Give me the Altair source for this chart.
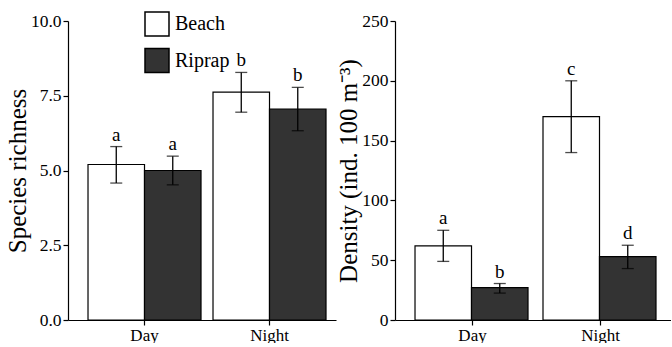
import altair as alt
import pandas as pd

groups = ["Day", "Day", "Night", "Night"]
sites = ["Beach", "Riprap", "Beach", "Riprap"]

richness = [5.2, 5.0, 7.62, 7.05]
rich_lo = [4.58, 4.52, 6.95, 6.33]
rich_hi = [5.8, 5.48, 8.28, 7.78]
rich_letters = ["a", "a", "b", "b"]

density = [62, 27, 170, 53]
dens_lo = [49, 22.5, 140, 43]
dens_hi = [75, 30.5, 200, 62.5]
dens_letters = ["a", "b", "c", "d"]

site_domain = ["Beach", "Riprap"]
site_colors = ["#ffffff", "#333333"]

FONT = "Liberation Serif"

left_df = pd.DataFrame({"group": groups, "site": sites, "value": richness,
                        "lo": rich_lo, "hi": rich_hi, "letter": rich_letters})
right_df = pd.DataFrame({"group": groups, "site": sites, "value": density,
                         "lo": dens_lo, "hi": dens_hi, "letter": dens_letters})

AX = dict(domainColor="black", tickColor="black", tickSize=5, domainWidth=1.2, tickWidth=1.2,
          labelFont=FONT, labelColor="black", labelPadding=2,
          titleFont=FONT, titleFontWeight="normal", titleColor="black", grid=False)


def panel(df, ytitle, ydomain, yvalues, yfmt, width, pin, pout, align, show_legend, title_pad):
    xenc = alt.X("group:N",
                 scale=alt.Scale(domain=["Day", "Night"], paddingInner=pin,
                                 paddingOuter=pout, align=align),
                 axis=alt.Axis(title=None, labelAngle=0, labelFontSize=17, **AX))
    xoff = alt.XOffset("site:N", scale=alt.Scale(domain=site_domain, paddingInner=0, paddingOuter=0))
    yscale = alt.Scale(domain=ydomain, nice=False)
    yaxis = alt.Axis(title=ytitle, values=yvalues, format=yfmt, titlePadding=title_pad,
                     labelFontSize=17.5, titleFontSize=25, **AX)

    def Y(field):
        return alt.Y(field, scale=yscale, axis=yaxis, title=ytitle)

    base = alt.Chart(df)
    fill_scale = alt.Scale(domain=site_domain, range=site_colors)
    if show_legend:
        fill = alt.Fill("site:N", scale=fill_scale, legend=alt.Legend(
            title=None, orient="none", legendX=76, legendY=-10, padding=0,
            symbolType="square", symbolSize=576, symbolStrokeColor="black",
            symbolStrokeWidth=1.5, labelFont=FONT, labelFontSize=20,
            labelColor="black", labelOffset=5, rowPadding=6.5))
    else:
        fill = alt.Fill("site:N", scale=fill_scale, legend=None)
    bars = base.mark_bar(stroke="black", strokeWidth=1.2).encode(
        x=xenc, xOffset=xoff, y=Y("value:Q"), fill=fill)
    rules = base.mark_rule(color="black", strokeWidth=1.3).encode(
        x=xenc, xOffset=xoff, y=Y("lo:Q"), y2="hi:Q")
    cap_lo = base.mark_tick(color="black", thickness=1.3, size=12, orient="horizontal").encode(
        x=xenc, xOffset=xoff, y=Y("lo:Q"))
    cap_hi = base.mark_tick(color="black", thickness=1.3, size=12, orient="horizontal").encode(
        x=xenc, xOffset=xoff, y=Y("hi:Q"))
    letters = base.mark_text(font=FONT, fontSize=19, color="black", baseline="bottom", dy=-2).encode(
        x=xenc, xOffset=xoff, y=Y("hi:Q"), text="letter:N")
    return alt.layer(bars, rules, cap_lo, cap_hi, letters).properties(width=width, height=299)


left = panel(left_df, "Species richness", [0, 10], [0, 2.5, 5, 7.5, 10], ".1f",
             268, 0.096, 0.12, 0.667, True, 0)
right = panel(right_df, "Density (ind. 100 m⁻³)", [0, 250], [0, 50, 100, 150, 200, 250], "d",
              276, 0.1016, 0.129, 0.606, False, 0)

chart = alt.hconcat(left, right, spacing=0).properties(
    padding={"left": 5, "top": 11, "right": 0, "bottom": 0},
).configure_view(stroke=None).configure_concat(spacing=0).configure_axis(
    labelFont=FONT, titleFont=FONT, labelColor="black", titleColor="black"
)

chart.save("out.html", embed_options={"renderer": "svg", "actions": False})
